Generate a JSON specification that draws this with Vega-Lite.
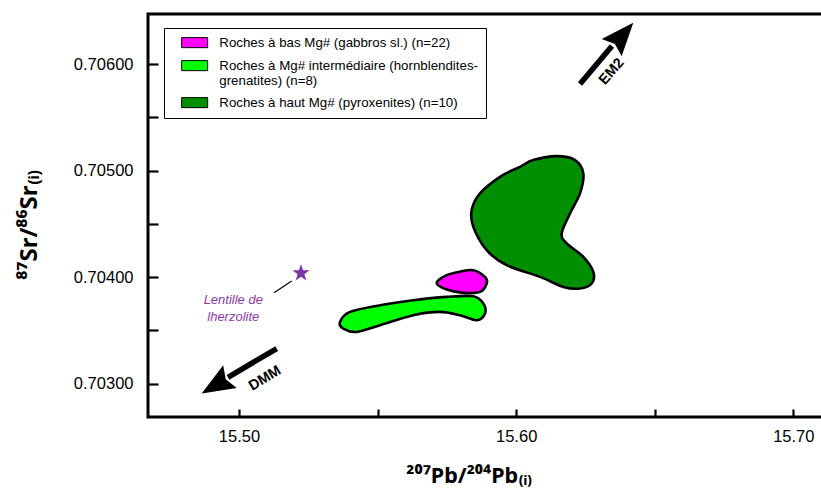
{
  "$schema": "https://vega.github.io/schema/vega-lite/v6.json",
  "width": 675,
  "height": 403,
  "autosize": {"type": "none"},
  "padding": {"left": 148, "top": 14, "right": 0, "bottom": 72},
  "config": {
    "font": "Liberation Sans",
    "view": {"stroke": "black", "strokeWidth": 3},
    "axis": {"grid": false, "domain": false, "tickColor": "black", "tickWidth": 2.2, "labelColor": "black", "labelFontSize": 16.5, "titleColor": "black", "labelFont": "Liberation Sans", "titleFont": "Noto Sans"}
  },
  "datasets": {
    "shapes": [
      {"g": "Roches à haut Mg# (pyroxenites) (n=10)", "i": 1, "x": 15.60619, "y": 0.705099},
      {"g": "Roches à haut Mg# (pyroxenites) (n=10)", "i": 2, "x": 15.61463, "y": 0.705136},
      {"g": "Roches à haut Mg# (pyroxenites) (n=10)", "i": 3, "x": 15.62123, "y": 0.705099},
      {"g": "Roches à haut Mg# (pyroxenites) (n=10)", "i": 4, "x": 15.62423, "y": 0.704974},
      {"g": "Roches à haut Mg# (pyroxenites) (n=10)", "i": 5, "x": 15.62304, "y": 0.704786},
      {"g": "Roches à haut Mg# (pyroxenites) (n=10)", "i": 6, "x": 15.61943, "y": 0.704598},
      {"g": "Roches à haut Mg# (pyroxenites) (n=10)", "i": 7, "x": 15.61643, "y": 0.704410},
      {"g": "Roches à haut Mg# (pyroxenites) (n=10)", "i": 8, "x": 15.61824, "y": 0.704316},
      {"g": "Roches à haut Mg# (pyroxenites) (n=10)", "i": 9, "x": 15.62423, "y": 0.704190},
      {"g": "Roches à haut Mg# (pyroxenites) (n=10)", "i": 10, "x": 15.62784, "y": 0.704049},
      {"g": "Roches à haut Mg# (pyroxenites) (n=10)", "i": 11, "x": 15.62726, "y": 0.703940},
      {"g": "Roches à haut Mg# (pyroxenites) (n=10)", "i": 12, "x": 15.62304, "y": 0.703893},
      {"g": "Roches à haut Mg# (pyroxenites) (n=10)", "i": 13, "x": 15.61701, "y": 0.703908},
      {"g": "Roches à haut Mg# (pyroxenites) (n=10)", "i": 14, "x": 15.60861, "y": 0.704002},
      {"g": "Roches à haut Mg# (pyroxenites) (n=10)", "i": 15, "x": 15.59659, "y": 0.704112},
      {"g": "Roches à haut Mg# (pyroxenites) (n=10)", "i": 16, "x": 15.58937, "y": 0.704253},
      {"g": "Roches à haut Mg# (pyroxenites) (n=10)", "i": 17, "x": 15.58454, "y": 0.704472},
      {"g": "Roches à haut Mg# (pyroxenites) (n=10)", "i": 18, "x": 15.58396, "y": 0.704629},
      {"g": "Roches à haut Mg# (pyroxenites) (n=10)", "i": 19, "x": 15.58696, "y": 0.704786},
      {"g": "Roches à haut Mg# (pyroxenites) (n=10)", "i": 20, "x": 15.59417, "y": 0.704942},
      {"g": "Roches à haut Mg# (pyroxenites) (n=10)", "i": 21, "x": 15.60139, "y": 0.705036},
      {"g": "Roches à bas Mg# (gabbros sl.) (n=22)", "i": 1, "x": 15.57133, "y": 0.703945},
      {"g": "Roches à bas Mg# (gabbros sl.) (n=22)", "i": 2, "x": 15.57494, "y": 0.704018},
      {"g": "Roches à bas Mg# (gabbros sl.) (n=22)", "i": 3, "x": 15.57974, "y": 0.704051},
      {"g": "Roches à bas Mg# (gabbros sl.) (n=22)", "i": 4, "x": 15.58454, "y": 0.704065},
      {"g": "Roches à bas Mg# (gabbros sl.) (n=22)", "i": 5, "x": 15.58876, "y": 0.704002},
      {"g": "Roches à bas Mg# (gabbros sl.) (n=22)", "i": 6, "x": 15.58937, "y": 0.703940},
      {"g": "Roches à bas Mg# (gabbros sl.) (n=22)", "i": 7, "x": 15.58696, "y": 0.703861},
      {"g": "Roches à bas Mg# (gabbros sl.) (n=22)", "i": 8, "x": 15.58093, "y": 0.703852},
      {"g": "Roches à bas Mg# (gabbros sl.) (n=22)", "i": 9, "x": 15.57494, "y": 0.703883},
      {"g": "Roches à Mg# intermédiaire (hornblendites-grenatites) (n=8)", "i": 1, "x": 15.53644, "y": 0.703579},
      {"g": "Roches à Mg# intermédiaire (hornblendites-grenatites) (n=8)", "i": 2, "x": 15.54005, "y": 0.703673},
      {"g": "Roches à Mg# intermédiaire (hornblendites-grenatites) (n=8)", "i": 3, "x": 15.55088, "y": 0.703736},
      {"g": "Roches à Mg# intermédiaire (hornblendites-grenatites) (n=8)", "i": 4, "x": 15.56289, "y": 0.703783},
      {"g": "Roches à Mg# intermédiaire (hornblendites-grenatites) (n=8)", "i": 5, "x": 15.57494, "y": 0.703814},
      {"g": "Roches à Mg# intermédiaire (hornblendites-grenatites) (n=8)", "i": 6, "x": 15.58454, "y": 0.703820},
      {"g": "Roches à Mg# intermédiaire (hornblendites-grenatites) (n=8)", "i": 7, "x": 15.58815, "y": 0.703752},
      {"g": "Roches à Mg# intermédiaire (hornblendites-grenatites) (n=8)", "i": 8, "x": 15.58876, "y": 0.703658},
      {"g": "Roches à Mg# intermédiaire (hornblendites-grenatites) (n=8)", "i": 9, "x": 15.58577, "y": 0.703595},
      {"g": "Roches à Mg# intermédiaire (hornblendites-grenatites) (n=8)", "i": 10, "x": 15.57974, "y": 0.703642},
      {"g": "Roches à Mg# intermédiaire (hornblendites-grenatites) (n=8)", "i": 11, "x": 15.57252, "y": 0.703673},
      {"g": "Roches à Mg# intermédiaire (hornblendites-grenatites) (n=8)", "i": 12, "x": 15.56289, "y": 0.703642},
      {"g": "Roches à Mg# intermédiaire (hornblendites-grenatites) (n=8)", "i": 13, "x": 15.55088, "y": 0.703548},
      {"g": "Roches à Mg# intermédiaire (hornblendites-grenatites) (n=8)", "i": 14, "x": 15.54247, "y": 0.703485},
      {"g": "Roches à Mg# intermédiaire (hornblendites-grenatites) (n=8)", "i": 15, "x": 15.53763, "y": 0.703517}
    ],
    "star": [{"x": 15.52237, "y": 0.704037}],
    "leader": [{"x": 15.51902, "y": 0.703964, "x2": 15.51263, "y2": 0.703852}],
    "notes": [
      {"t": "Lentille de", "x": 15.49794, "y": 0.703783},
      {"t": "lherzolite", "x": 15.49794, "y": 0.703626}
    ],
    "arrows": [
      {"name": "DMM", "x1": 15.51360, "y1": 0.703329, "x2": 15.49603, "y2": 0.703059, "xt": 15.48654, "yt": 0.702906, "xl": 15.50938, "yl": 0.703047},
      {"name": "EM2", "x1": 15.62304, "y1": 0.705813, "x2": 15.63458, "y2": 0.706170, "xt": 15.64227, "yt": 0.706389, "xl": 15.63448, "yl": 0.705929}
    ]
  },
  "layer": [
    {
      "data": {"name": "shapes"},
      "mark": {"type": "line", "interpolate": "cardinal-closed", "stroke": "black", "strokeWidth": 2.6},
      "encoding": {
        "x": {"field": "x", "type": "quantitative", "scale": {"domain": [15.46717, 15.71071], "nice": false, "zero": false},
          "axis": {"values": [15.5, 15.55, 15.6, 15.65, 15.7], "labelExpr": "round(datum.value*100) % 10 == 0 ? format(datum.value, '.2f') : ''", "tickSize": -8, "labelPadding": 19,
            "title": "²⁰⁷Pb/²⁰⁴Pb₍ᵢ₎", "titleFontSize": 21.5, "titleFontWeight": "bold", "titleX": 321, "titleY": 65, "titleBaseline": "alphabetic", "titleAlign": "center", "titleAnchor": null}},
        "y": {"field": "y", "type": "quantitative", "scale": {"domain": [0.702686, 0.706471], "nice": false, "zero": false},
          "axis": {"values": [0.703, 0.7035, 0.704, 0.7045, 0.705, 0.7055, 0.706], "labelExpr": "round(datum.value*2000) % 2 == 0 ? format(datum.value, '.5f') : ''", "tickSize": -10, "labelPadding": 25,
            "title": "⁸⁷Sr/⁸⁶Sr₍ᵢ₎", "titleFontSize": 24, "titleFontWeight": "bold", "titleX": -112, "titleY": 210, "titleBaseline": "alphabetic", "titleAlign": "center", "titleAngle": -90}},
        "order": {"field": "i", "type": "quantitative"},
        "fill": {"field": "g", "type": "nominal",
          "scale": {"domain": ["Roches à bas Mg# (gabbros sl.) (n=22)", "Roches à Mg# intermédiaire (hornblendites-grenatites) (n=8)", "Roches à haut Mg# (pyroxenites) (n=10)"], "range": ["#ff00ff", "#00ff00", "#008f00"]},
          "legend": {
            "title": null, "orient": "none", "legendX": 16, "legendY": 14,
            "strokeColor": "black", "fillColor": "white", "padding": 8,
            "symbolType": "M-2.6,-1H2.6V1H-2.6Z", "symbolSize": 100, "symbolOffset": 16,
            "symbolStrokeColor": "black", "symbolStrokeWidth": 1, "symbolOpacity": 1,
            "labelFont": "Liberation Sans", "labelFontSize": 13.3, "labelColor": "black", "labelOffset": 18, "labelLimit": 400,
            "rowPadding": 8,
            "labelExpr": "datum.label == 'Roches à Mg# intermédiaire (hornblendites-grenatites) (n=8)' ? ['Roches à Mg# intermédiaire (hornblendites-', 'grenatites) (n=8)'] : datum.label",
            "encode": {"labels": {"update": {"lineHeight": {"value": 15}}}, "symbols": {"update": {"stroke": {"value": "black"}, "strokeWidth": {"value": 1}}}}
          }
        }
      }
    },
    {
      "data": {"name": "leader"},
      "mark": {"type": "rule", "stroke": "black", "strokeWidth": 1.2},
      "encoding": {
        "x": {"field": "x", "type": "quantitative"},
        "y": {"field": "y", "type": "quantitative"},
        "x2": {"field": "x2"},
        "y2": {"field": "y2"}
      }
    },
    {
      "data": {"name": "star"},
      "mark": {"type": "point", "filled": true, "opacity": 1, "fill": "#7d35a5", "strokeWidth": 0, "size": 324,
        "shape": "M0,-1L0.235,-0.324L0.951,-0.309L0.38,0.124L0.588,0.809L0,0.4L-0.588,0.809L-0.38,0.124L-0.951,-0.309L-0.235,-0.324Z"},
      "encoding": {
        "x": {"field": "x", "type": "quantitative"},
        "y": {"field": "y", "type": "quantitative"}
      }
    },
    {
      "data": {"name": "notes"},
      "mark": {"type": "text", "fontStyle": "italic", "fontSize": 13, "color": "#8a3aa8", "align": "center", "baseline": "middle"},
      "encoding": {
        "x": {"field": "x", "type": "quantitative"},
        "y": {"field": "y", "type": "quantitative"},
        "text": {"field": "t"}
      }
    },
    {
      "data": {"name": "arrows"},
      "mark": {"type": "rule", "stroke": "black", "strokeWidth": 5.5},
      "encoding": {
        "x": {"field": "x1", "type": "quantitative"},
        "y": {"field": "y1", "type": "quantitative"},
        "x2": {"field": "x2"},
        "y2": {"field": "y2"}
      }
    },
    {
      "data": {"name": "arrows"},
      "transform": [{"filter": "datum.name == 'DMM'"}],
      "mark": {"type": "point", "filled": true, "opacity": 1, "fill": "black", "strokeWidth": 0, "size": 4356, "angle": 239,
        "shape": "M0,0L-0.4,1L0,0.85L0.4,1Z"},
      "encoding": {
        "x": {"field": "xt", "type": "quantitative"},
        "y": {"field": "yt", "type": "quantitative"}
      }
    },
    {
      "data": {"name": "arrows"},
      "transform": [{"filter": "datum.name == 'EM2'"}],
      "mark": {"type": "point", "filled": true, "opacity": 1, "fill": "black", "strokeWidth": 0, "size": 4356, "angle": 41,
        "shape": "M0,0L-0.4,1L0,0.85L0.4,1Z"},
      "encoding": {
        "x": {"field": "xt", "type": "quantitative"},
        "y": {"field": "yt", "type": "quantitative"}
      }
    },
    {
      "data": {"name": "arrows"},
      "transform": [{"filter": "datum.name == 'DMM'"}],
      "mark": {"type": "text", "fontWeight": "bold", "fontSize": 14.5, "angle": 329, "align": "center", "baseline": "middle", "color": "black"},
      "encoding": {
        "x": {"field": "xl", "type": "quantitative"},
        "y": {"field": "yl", "type": "quantitative"},
        "text": {"field": "name"}
      }
    },
    {
      "data": {"name": "arrows"},
      "transform": [{"filter": "datum.name == 'EM2'"}],
      "mark": {"type": "text", "fontWeight": "bold", "fontSize": 14.5, "angle": 311, "align": "center", "baseline": "middle", "color": "black"},
      "encoding": {
        "x": {"field": "xl", "type": "quantitative"},
        "y": {"field": "yl", "type": "quantitative"},
        "text": {"field": "name"}
      }
    }
  ]
}
